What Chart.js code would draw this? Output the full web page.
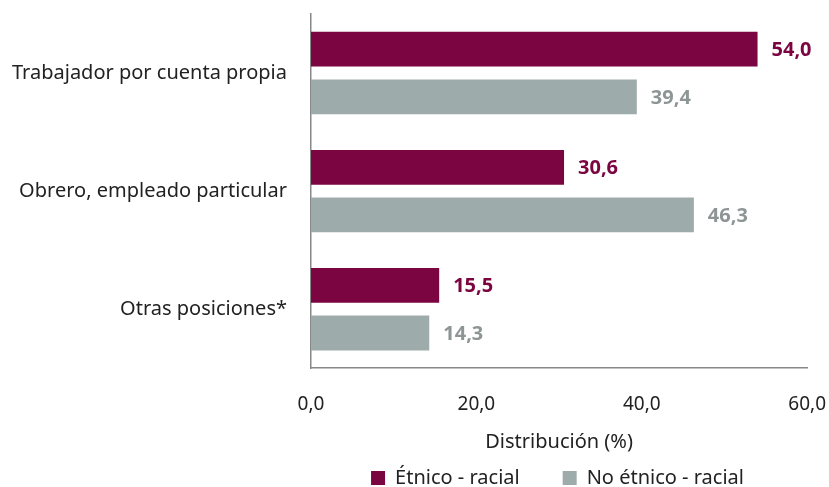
<!DOCTYPE html>
<html><head><meta charset="utf-8">
<script src="https://cdn.jsdelivr.net/npm/chart.js@4"></script>
<style>html,body{margin:0;padding:0;background:#fff;overflow:hidden}#w{width:829px;height:487px}</style>
</head><body><div id="w"><canvas id="c"></canvas></div>
<script>
const categories = ["Trabajador por cuenta propia", "Obrero, empleado particular", "Otras posiciones*"];
const etnico = [54.0, 30.6, 15.5];
const noEtnico = [39.4, 46.3, 14.3];
const seriesNames = ["Étnico - racial", "No étnico - racial"];
const xTicks = [0, 20, 40, 60];

const FONT = "'Noto Sans', 'Open Sans', sans-serif";
const C1 = '#7B0540', C2 = '#9DABAA', L2 = '#8E9595';
const LEGEND_SHIFT_Y = 30;
const LEGEND_SHIFT_X = 144;

const labelPlugin = {
  id: 'vals',
  afterInit(chart) {
    const lg = chart.legend;
    if (!lg) return;
    const fit = lg.fit;
    lg.fit = function () { fit.call(this); this.height -= LEGEND_SHIFT_Y; };
    const draw = lg.draw;
    lg.draw = function () {
      const t = this.top, l = this.left, r = this.right;
      this.top = t - LEGEND_SHIFT_Y; this.left = l + LEGEND_SHIFT_X; this.right = r + LEGEND_SHIFT_X;
      draw.call(this);
      this.top = t; this.left = l; this.right = r;
    };
  },
  afterDatasetsDraw(chart) {
    const ctx = chart.ctx;
    ctx.save();
    ctx.font = "bold 20px " + FONT;
    ctx.textBaseline = 'middle';
    ctx.textAlign = 'left';
    chart.data.datasets.forEach((ds, i) => {
      const meta = chart.getDatasetMeta(i);
      ctx.fillStyle = i === 0 ? C1 : L2;
      meta.data.forEach((el, j) => {
        ctx.fillText(ds.data[j].toFixed(1).replace('.', ','), el.x + 14, el.y + 1);
      });
    });
    ctx.restore();
  }
};

new Chart(document.getElementById('c'), {
  type: 'bar',
  data: {
    labels: categories,
    datasets: [
      { label: seriesNames[0], data: etnico, backgroundColor: C1, categoryPercentage: 0.807, barPercentage: 0.73 },
      { label: seriesNames[1], data: noEtnico, backgroundColor: C2, categoryPercentage: 0.807, barPercentage: 0.73 }
    ]
  },
  options: {
    indexAxis: 'y',
    responsive: true,
    maintainAspectRatio: false,
    animation: false,
    layout: { padding: { top: 0, right: 12, left: 10, bottom: -11 } },
    plugins: {
      legend: {
        position: 'bottom',
        labels: { boxWidth: 14, boxHeight: 14, padding: 43, color: '#222', font: { family: FONT, size: 20 } }
      },
      tooltip: { enabled: false }
    },
    scales: {
      x: {
        min: 0, max: 60,
        afterBuildTicks(ax) { ax.ticks = xTicks.map(v => ({ value: v })); },
        grid: { display: false, drawTicks: true, tickLength: 22 },
        border: { display: true, color: '#888', width: 1.5 },
        ticks: { color: '#222', padding: 3, font: { family: FONT, size: 19 },
          callback: v => Number(v).toFixed(1).replace('.', ',') },
        title: { display: true, text: 'Distribución (%)', color: '#222', font: { family: FONT, size: 20 }, padding: { top: 11, bottom: 1 } }
      },
      y: {
        grid: { display: false, drawTicks: true, tickLength: 22 },
        border: { display: true, color: '#888', width: 1.5 },
        ticks: { color: '#222', padding: 2, font: { family: FONT, size: 20 } }
      }
    }
  },
  plugins: [labelPlugin]
});
</script></body></html>
